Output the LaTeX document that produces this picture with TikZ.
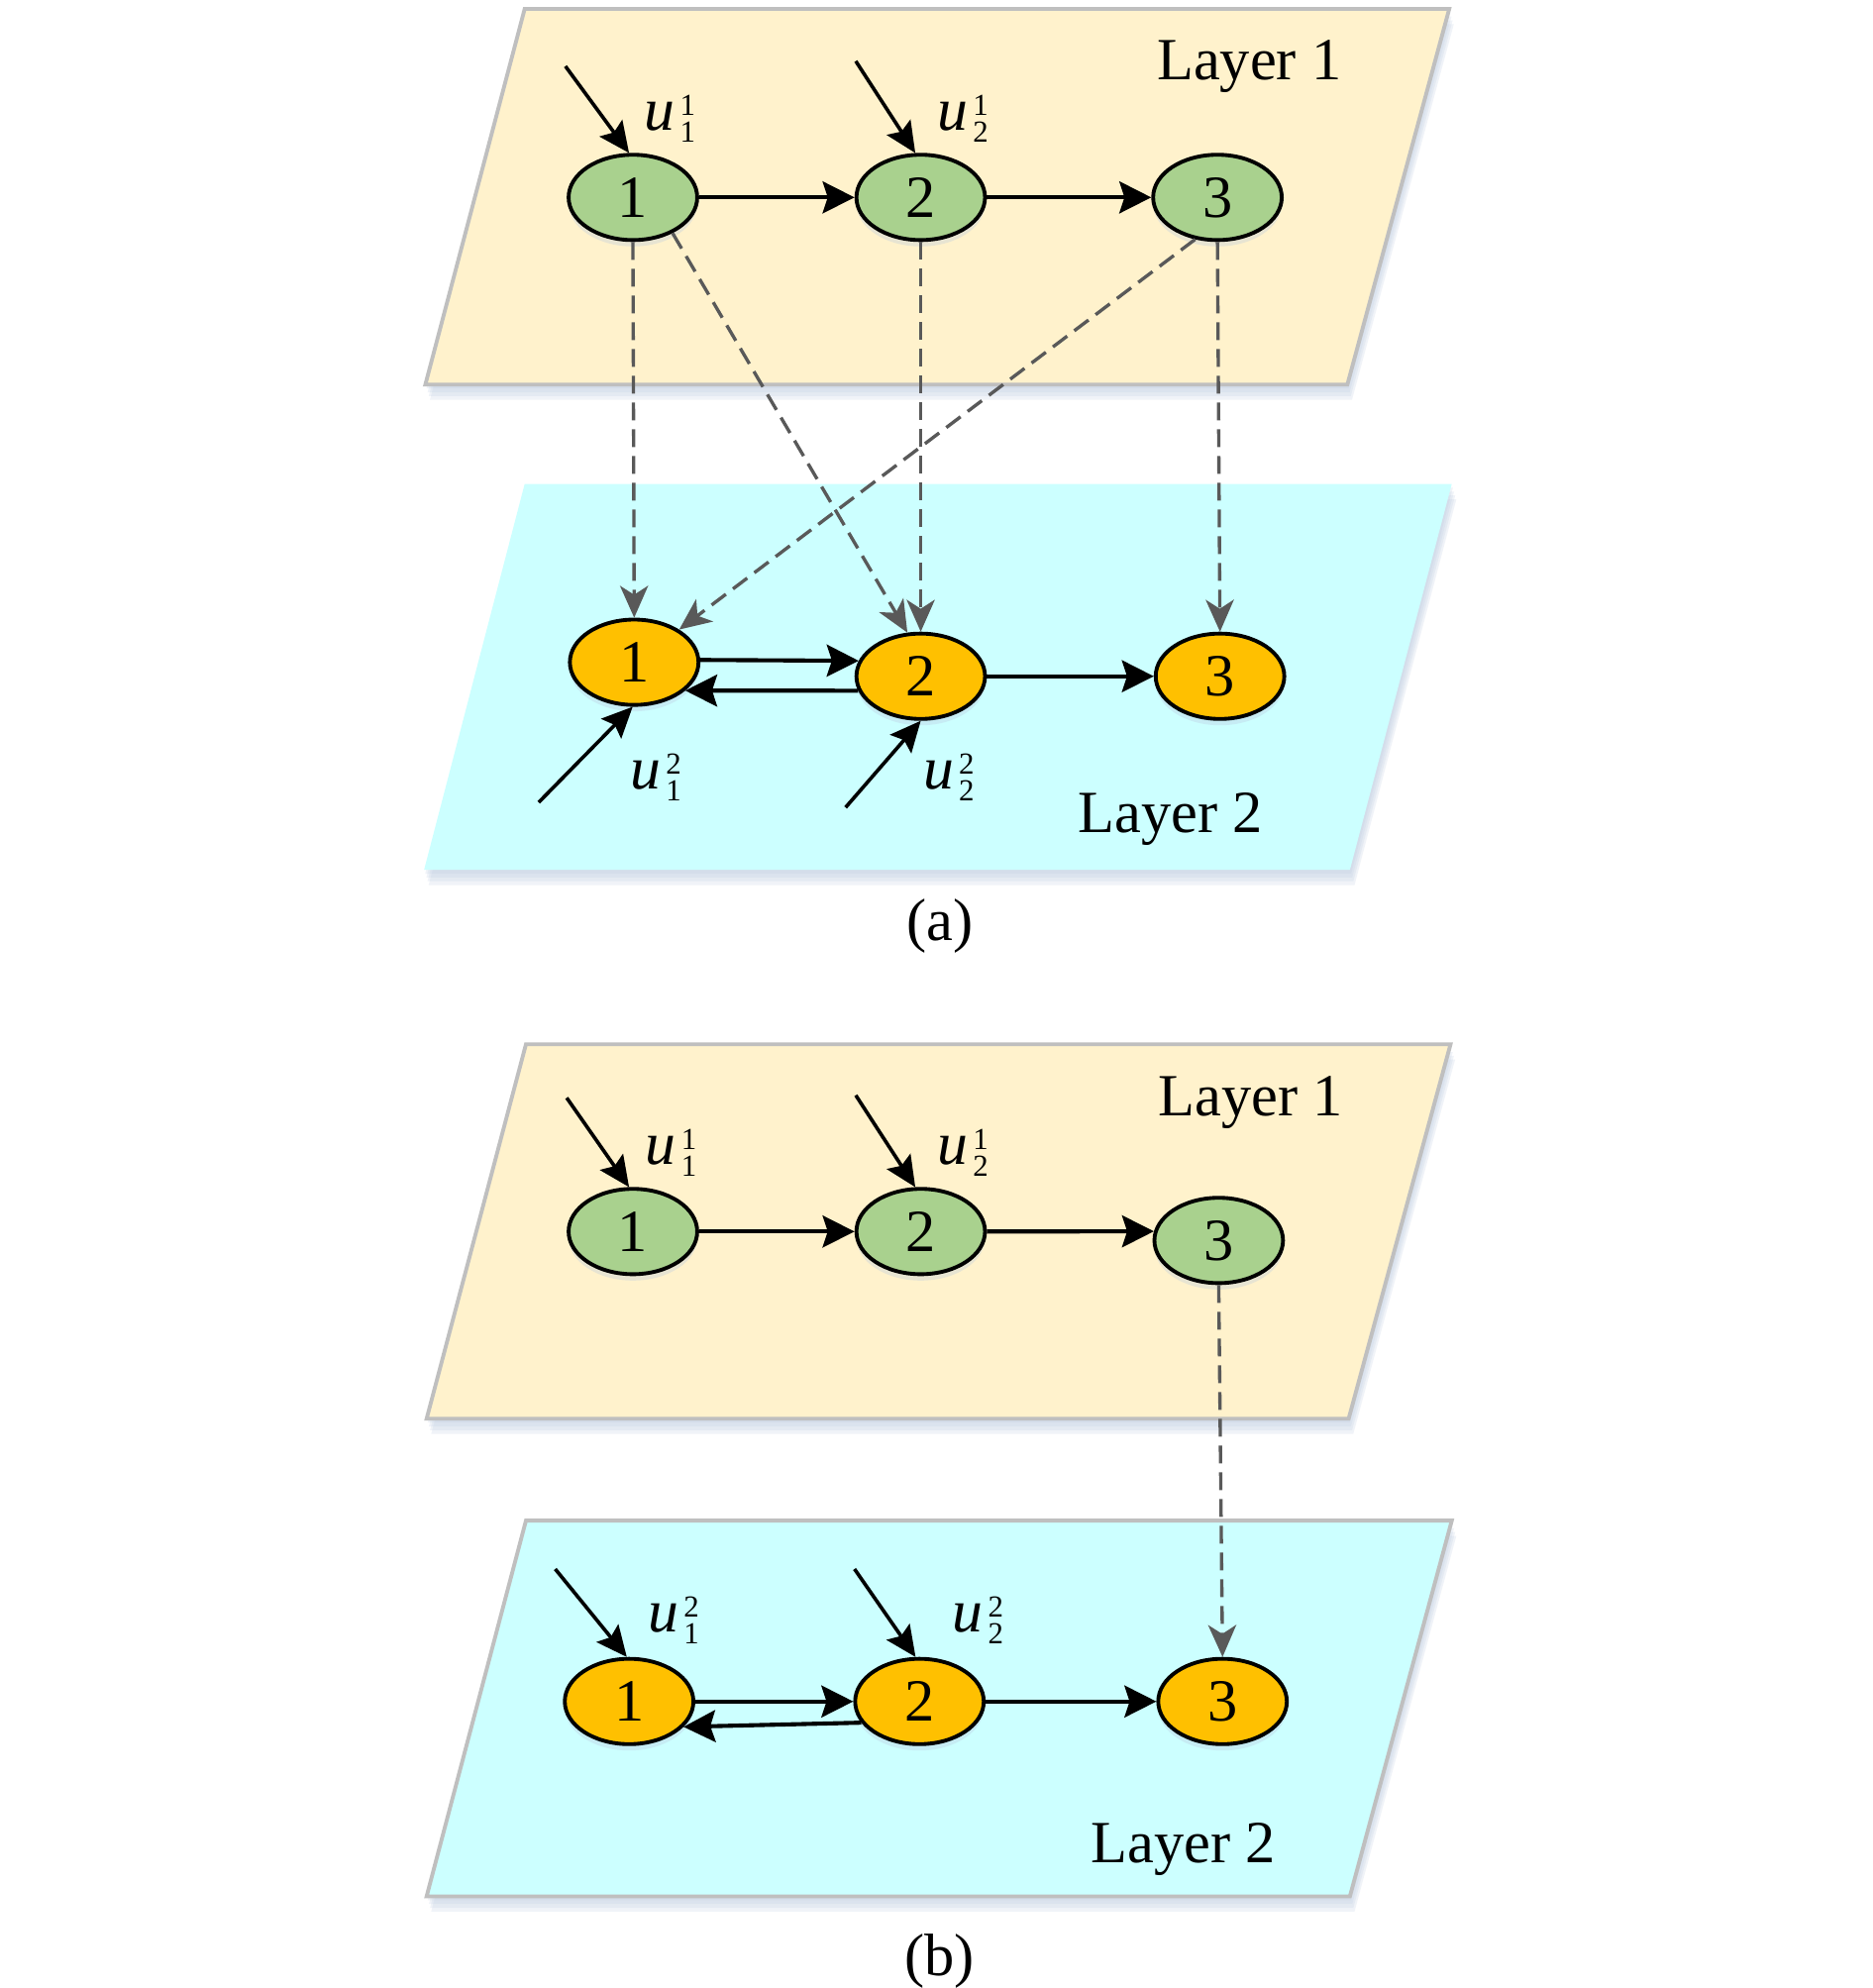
\documentclass[tikz,border=0pt]{standalone}
\usepackage{fontspec}
\setmainfont{Liberation Serif}
\usetikzlibrary{arrows.meta,calc,shapes.geometric}
\definecolor{lyel}{HTML}{FFF2CC}
\definecolor{lcyan}{HTML}{CCFFFF}
\definecolor{ngreen}{HTML}{A9D18E}
\definecolor{norange}{HTML}{FFC000}
\definecolor{pborder}{HTML}{BFBFBF}
\definecolor{dgray}{HTML}{595959}
\definecolor{shad}{HTML}{BCCBE0}
\newcommand{\ulab}[2]{\textit{u}\kern4pt\rlap{\raisebox{12pt}{\fontsize{24}{24}\selectfont #2}}\raisebox{-9pt}{\fontsize{24}{24}\selectfont #1}}
\newcommand{\bigtxt}{\fontsize{47}{50}\selectfont}
\begin{document}
\begin{tikzpicture}[x=1pt,y=-1pt,
  nodebase/.style={ellipse,draw=black,line width=3pt,minimum width=101pt,minimum height=67pt,inner sep=0pt,font=\bigtxt,
     preaction={fill=shad,opacity=0.35,transform canvas={yshift=-5pt}}},
  gnode/.style={nodebase,fill=ngreen},
  onode/.style={nodebase,fill=norange},
  plane1/.style={fill=lyel,draw=pborder,line width=3pt},
  plane1nb/.style={fill=lyel},
  plane2/.style={fill=lcyan,draw=pborder,line width=3pt},
  plane2nb/.style={fill=lcyan},
  pshadow/.style={fill=shad,opacity=0.22},
  arr/.style={line width=3.2pt,draw=black,-{Stealth[length=25pt,width=25pt,inset=4pt]}},
  inarr/.style={line width=2.8pt,draw=black,-{Stealth[length=24pt,width=22pt,inset=4pt]}},
  darr/.style={line width=2.6pt,draw=dgray,dash pattern=on 14pt off 7pt,-{Stealth[length=25pt,width=22pt,inset=7pt]}},
  lbl/.style={font=\bigtxt,inner sep=0pt},
  ulbl/.style={font=\fontsize{48}{50}\selectfont,inner sep=0pt}
]
\useasboundingbox (0,0) rectangle (1470,1561);
\fill[white] (0,0) rectangle (1470,1561);

% ---------- planes (a) ----------
\foreach \d in {3,6,9,12}{
  \fill[pshadow] (412+\d*0.3,7+\d) -- (1138+\d*0.3,7+\d) -- (1058+\d*0.3,302+\d) -- (334+\d*0.3,302+\d) -- cycle;
  \fill[pshadow] (412+\d*0.3,380+\d) -- (1140+\d*0.3,380+\d) -- (1060+\d*0.3,683+\d) -- (333+\d*0.3,683+\d) -- cycle;
}
\path[plane1] (412,7) -- (1138,7) -- (1058,302) -- (334,302) -- cycle;
\path[plane2nb] (412,380) -- (1140,380) -- (1060,683) -- (333,683) -- cycle;

% ---------- planes (b) ----------
\foreach \d in {3,6,9,12}{
  \fill[pshadow] (413+\d*0.3,820+\d) -- (1139+\d*0.3,820+\d) -- (1059+\d*0.3,1114+\d) -- (335+\d*0.3,1114+\d) -- cycle;
  \fill[pshadow] (413+\d*0.3,1194+\d) -- (1140+\d*0.3,1194+\d) -- (1060+\d*0.3,1489+\d) -- (335+\d*0.3,1489+\d) -- cycle;
}
\path[plane1] (413,820) -- (1139,820) -- (1059,1114) -- (335,1114) -- cycle;
\path[plane2] (413,1194) -- (1140,1194) -- (1060,1489) -- (335,1489) -- cycle;

% ---------- nodes (a) ----------
\node[gnode] (a11) at (497,155) {1};
\node[gnode] (a12) at (723,155) {2};
\node[gnode] (a13) at (956,155) {3};
\node[onode] (a21) at (498,520) {1};
\node[onode] (a22) at (723,531) {2};
\node[onode] (a23) at (958,531) {3};

% ---------- nodes (b) ----------
\node[gnode] (b11) at (497,967) {1};
\node[gnode] (b12) at (723,967) {2};
\node[gnode] (b13) at (957,974) {3};
\node[onode] (b21) at (494,1336) {1};
\node[onode] (b22) at (722,1336) {2};
\node[onode] (b23) at (960,1336) {3};

% ---------- inputs (a) ----------
\coordinate (sa11) at (444,52);
\coordinate (sa12) at (672,48);
\coordinate (sa21) at (423,630);
\coordinate (sa22) at (664,634);
\draw[inarr] (sa11) -- (a11.95);
\draw[inarr] (sa12) -- (a12.97);
\draw[inarr] (sa21) -- (a21.268);
\draw[inarr] (sa22) -- (a22.270);
\node[ulbl] (ua11) at (526,93) {\ulab{1}{1}};
\node[ulbl] (ua12) at (756,93) {\ulab{2}{1}};
\node[ulbl] (ua21) at (515,610) {\ulab{1}{2}};
\node[ulbl] (ua22) at (745,610) {\ulab{2}{2}};

% ---------- inputs (b) ----------
\coordinate (sb11) at (445,862);
\coordinate (sb12) at (672,860);
\coordinate (sb21) at (436,1232);
\coordinate (sb22) at (671,1232);
\draw[inarr] (sb11) -- (b11.95);
\draw[inarr] (sb12) -- (b12.97);
\draw[inarr] (sb21) -- (b21.93);
\draw[inarr] (sb22) -- (b22.95);
\node[ulbl] (ub11) at (527,905) {\ulab{1}{1}};
\node[ulbl] (ub12) at (756,905) {\ulab{2}{1}};
\node[ulbl] (ub21) at (529,1272) {\ulab{1}{2}};
\node[ulbl] (ub22) at (768,1272) {\ulab{2}{2}};

% ---------- intra-layer arrows (a) ----------
\draw[arr] (a11.east) -- (a12.west);
\draw[arr] (a12.east) -- (a13.west);
\draw[arr] (a21.2) -- (a22.166);
\draw[arr] (a22.193) -- (a21.331);
\draw[arr] (a22.east) -- (a23.west);

% ---------- intra-layer arrows (b) ----------
\draw[arr] (b11.east) -- (b12.west);
\draw[arr] (b12.east) -- (b13.172);
\draw[arr] (b21.east) -- (b22.west);
\draw[arr] (b22.200) -- (b21.335);
\draw[arr] (b22.east) -- (b23.west);

% ---------- inter-layer dashed (a) ----------
\draw[darr] (a11.south) -- (a21.north);
\draw[darr] (a11.318) -- (a22.107);
\draw[darr] (a12.south) -- (a22.north);
\draw[darr] (a13.242) -- (a21.36);
\draw[darr] (a13.south) -- (a23.north);

% ---------- inter-layer dashed (b) ----------
\draw[darr] (b13.south) -- (b23.north);

% ---------- texts ----------
\node[lbl] (l1a) at (981,52) {Layer 1};
\node[lbl] (l2a) at (919,643) {Layer 2};
\node[lbl] (capa) at (738,727) {(a)};
\node[lbl] (l1b) at (982,866) {Layer 1};
\node[lbl] (l2b) at (929,1452) {Layer 2};
\node[lbl] (capb) at (738,1540) {(b)};
\end{tikzpicture}
\end{document}
